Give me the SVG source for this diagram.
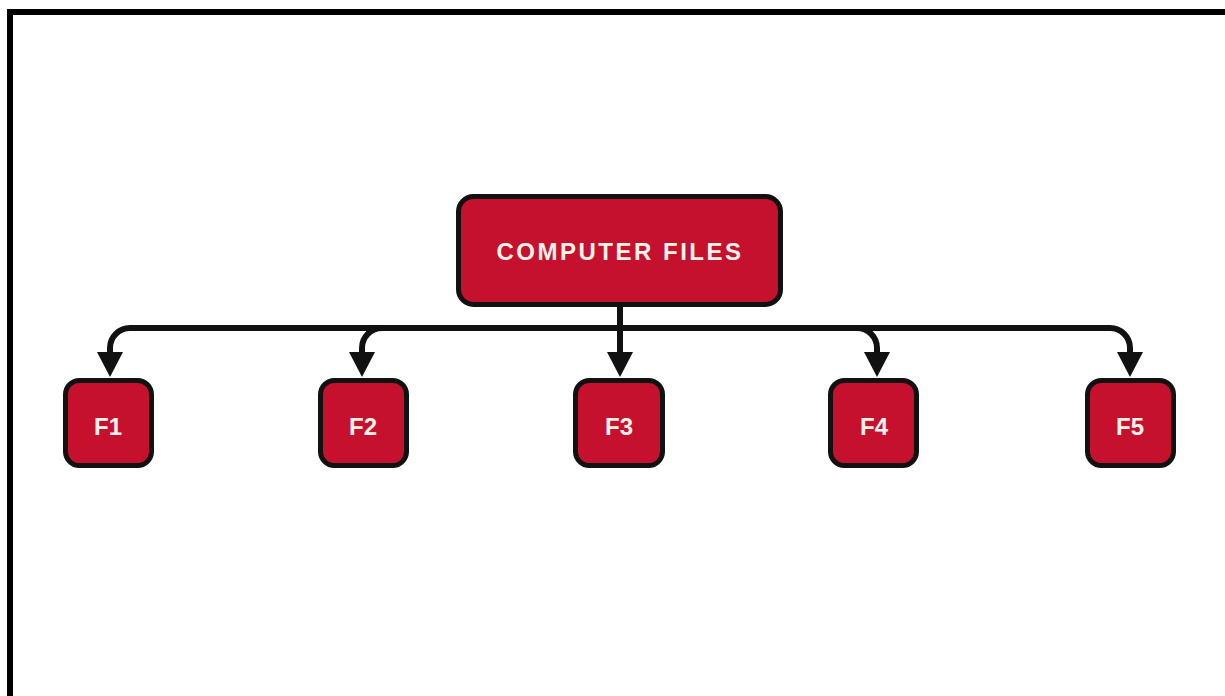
<svg xmlns="http://www.w3.org/2000/svg" width="1225" height="696" viewBox="0 0 1225 696">
  <style>
    .box { fill: #c5112e; stroke: #111; stroke-width: 5; }
    .label { fill: #f7f3ea; font-family: "Liberation Sans", Arial, sans-serif; font-weight: bold; font-size: 24px; text-anchor: middle; }
    .wire { fill: none; stroke: #111; stroke-width: 6; stroke-linejoin: round; }
  </style>
  <defs>
    <marker id="arrow" markerUnits="userSpaceOnUse" markerWidth="26" markerHeight="26" refX="0" refY="12.5" orient="auto" viewBox="0 0 25 25">
      <path d="M0,0 L24,12.5 L0,25 z" fill="#111"/>
    </marker>
  </defs>

  <rect x="0" y="0" width="1225" height="696" fill="#ffffff"/>
  <!-- frame edge, left and top -->
  <path d="M10,696 V12 H1225" fill="none" stroke="#000" stroke-width="6"/>

  <g id="connectors">
    <path class="wire" d="M620,305 V352" marker-end="url(#arrow)"/>
    <path class="wire" d="M620,328 H130 A20,20 0 0 0 110,348 V352" marker-end="url(#arrow)"/>
    <path class="wire" d="M620,328 H382 A20,20 0 0 0 362,348 V352" marker-end="url(#arrow)"/>
    <path class="wire" d="M620,328 H857 A20,20 0 0 1 877,348 V352" marker-end="url(#arrow)"/>
    <path class="wire" d="M620,328 H1110 A20,20 0 0 1 1130,348 V352" marker-end="url(#arrow)"/>
  </g>

  <g id="computer-files">
    <rect class="box" x="458.5" y="196.5" width="322" height="108" rx="15"/>
    <text class="label" x="620" y="260" letter-spacing="2.5">COMPUTER FILES</text>
  </g>
  <g id="f1">
    <rect class="box" x="65.5" y="380.5" width="86" height="85" rx="14"/>
    <text class="label" x="108" y="435">F1</text>
  </g>
  <g id="f2">
    <rect class="box" x="320.5" y="380.5" width="86" height="85" rx="14"/>
    <text class="label" x="363" y="435">F2</text>
  </g>
  <g id="f3">
    <rect class="box" x="575.5" y="380.5" width="87" height="85" rx="14"/>
    <text class="label" x="619" y="435">F3</text>
  </g>
  <g id="f4">
    <rect class="box" x="830.5" y="380.5" width="86" height="85" rx="14"/>
    <text class="label" x="874" y="435">F4</text>
  </g>
  <g id="f5">
    <rect class="box" x="1087.5" y="380.5" width="86" height="85" rx="14"/>
    <text class="label" x="1130" y="435">F5</text>
  </g>
</svg>
